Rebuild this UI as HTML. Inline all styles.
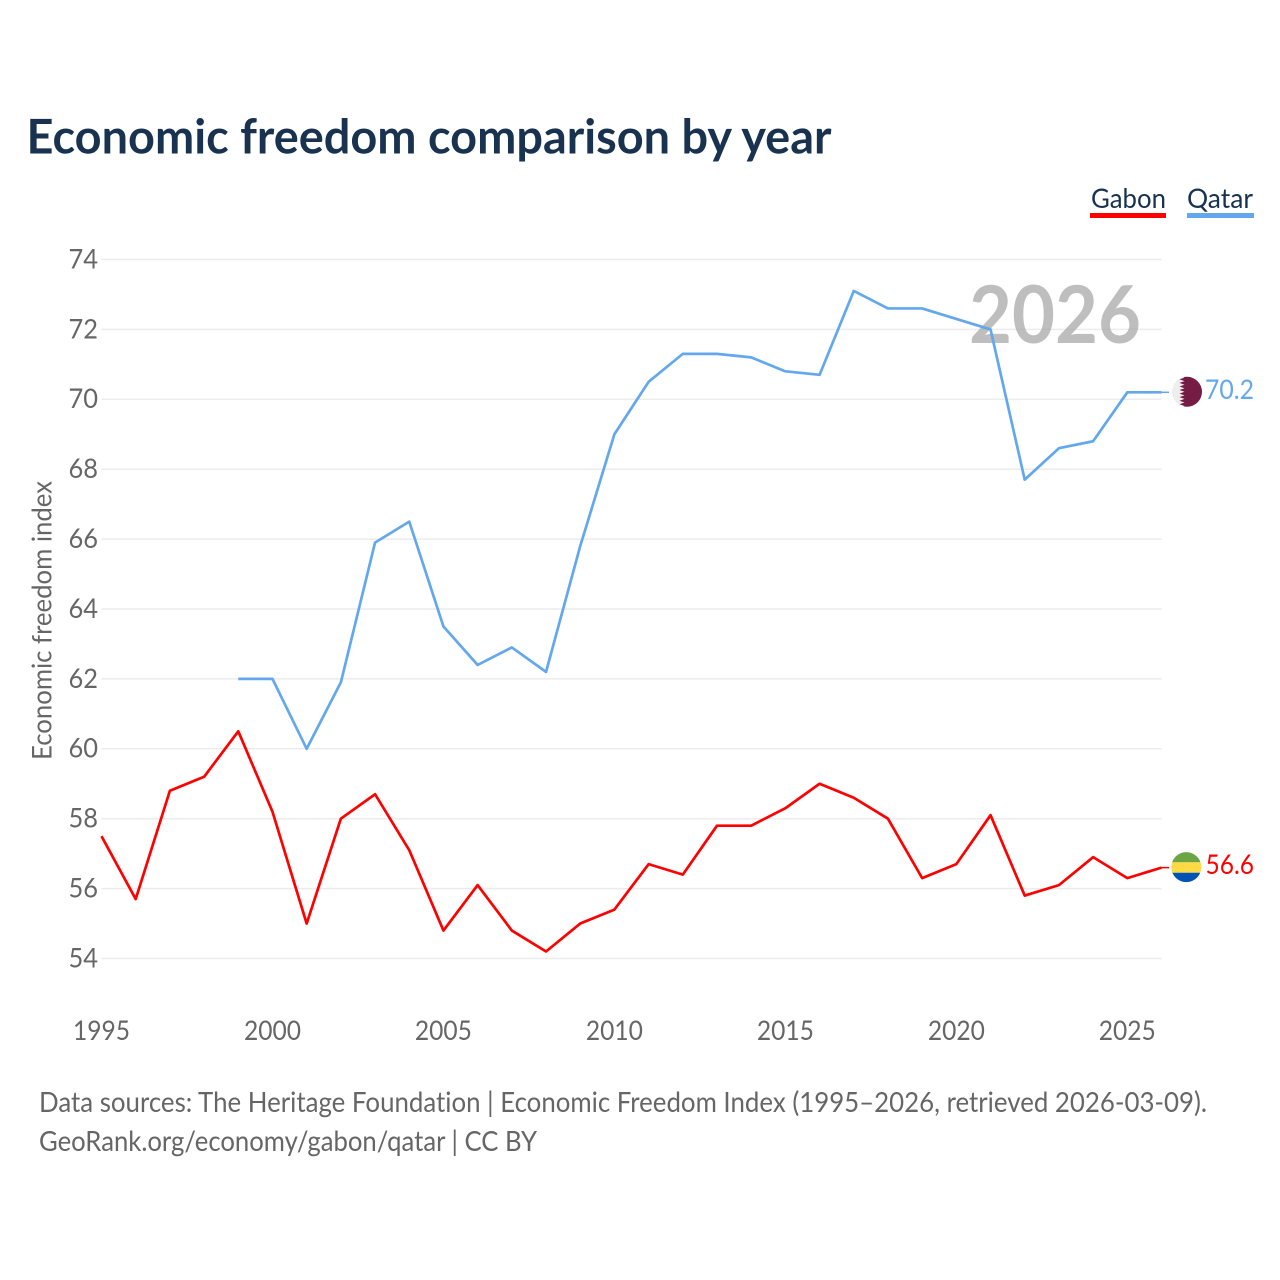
<!DOCTYPE html>
<html lang="en">
<head>
<meta charset="utf-8">
<title>Economic freedom comparison by year</title>
<style>
html,body{margin:0;padding:0;background:#fff;width:1280px;height:1280px;overflow:hidden}
svg{display:block}
text{font-family:"Lato","Carlito","Liberation Sans",sans-serif;font-variant-ligatures:none}
</style>
</head>
<body>
<svg id="chart" xmlns="http://www.w3.org/2000/svg" width="1280" height="1280" viewBox="0 0 1280 1280">
  <defs>
    <clipPath id="qa-clip"><circle cx="1187" cy="0" r="15"/></clipPath>
    <clipPath id="ga-clip"><circle cx="1186.3" cy="0" r="15"/></clipPath>
  </defs>
  <rect width="1280" height="1280" fill="#fff"/>
  <text x="26.5" y="153.6" font-size="47.5" font-weight="700" fill="#18324f" textLength="805" lengthAdjust="spacingAndGlyphs">Economic freedom comparison by year</text>

  <g>
    <text x="1091" y="208" font-size="27" fill="#18324f" textLength="75" lengthAdjust="spacingAndGlyphs">Gabon</text>
    <rect x="1090" y="213" width="76" height="5" fill="#ff0000"/>
  </g>
  <g>
    <text x="1187" y="208" font-size="27" fill="#18324f" textLength="66" lengthAdjust="spacingAndGlyphs">Qatar</text>
    <rect x="1187" y="213" width="67" height="5" fill="#63a7ec"/>
  </g>

  <g id="grid"></g>
  <text x="1141" y="343" text-anchor="end" font-size="80" font-weight="700" fill="#a8a8a8" fill-opacity="0.75" textLength="172" lengthAdjust="spacingAndGlyphs">2026</text>
  <g id="y-ticks"></g>
  <g id="x-ticks"></g>
  <text transform="translate(51.7 620.5) rotate(-90)" text-anchor="middle" font-size="27" fill="#666" textLength="279" lengthAdjust="spacingAndGlyphs">Economic freedom index</text>

  <g id="series"></g>

  <g id="flag-qatar"></g>
  <g id="flag-gabon"></g>

  <text x="39" y="1112" font-size="28" fill="#666" textLength="1168" lengthAdjust="spacingAndGlyphs">Data sources: The Heritage Foundation | Economic Freedom Index (1995–2026, retrieved 2026-03-09).</text>
  <text x="39" y="1151" font-size="28" fill="#666" textLength="498" lengthAdjust="spacingAndGlyphs">GeoRank.org/economy/gabon/qatar | CC BY</text>
</svg>
<script>
const years = [1995,1996,1997,1998,1999,2000,2001,2002,2003,2004,2005,2006,2007,2008,2009,2010,2011,2012,2013,2014,2015,2016,2017,2018,2019,2020,2021,2022,2023,2024,2025,2026];
const gabonValues = [57.5,55.7,58.8,59.2,60.5,58.2,55.0,58.0,58.7,57.1,54.8,56.1,54.8,54.2,55.0,55.4,56.7,56.4,57.8,57.8,58.3,59.0,58.6,58.0,56.3,56.7,58.1,55.8,56.1,56.9,56.3,56.6];
const qatarValues = [null,null,null,null,62.0,62.0,60.0,61.9,65.9,66.5,63.5,62.4,62.9,62.2,65.8,69.0,70.5,71.3,71.3,71.2,70.8,70.7,73.1,72.6,72.6,72.3,72.0,67.7,68.6,68.8,70.2,70.2];
const yTickValues = [54,56,58,60,62,64,66,68,70,72,74];
const xTickValues = [1995,2000,2005,2010,2015,2020,2025];

const NS = 'http://www.w3.org/2000/svg';
const xScale = function (yr) { return 101.5 + (yr - 1995) * (1060 / 31); };
const yScale = function (v) { return 259.5 + (74 - v) * (699 / 20); };

function make(tag, parent, attrs, txt) {
  const el = document.createElementNS(NS, tag);
  for (const k in attrs) el.setAttribute(k, attrs[k]);
  if (txt !== undefined) el.textContent = txt;
  parent.appendChild(el);
  return el;
}

const gridG = document.getElementById('grid');
const yTickG = document.getElementById('y-ticks');
yTickValues.forEach(function (v) {
  const line = make('line', gridG, {x1: 101.5, x2: 1161.5, y1: yScale(v), y2: yScale(v), stroke: '#ececec', 'stroke-width': 1.5});
  
  
  const label = make('text', yTickG, {x: 98, y: yScale(v) + 8.9, 'text-anchor': 'end', 'font-size': 27, fill: '#666', textLength: 29.5, lengthAdjust: 'spacingAndGlyphs'}, String(v));
  
  
});

const xTickG = document.getElementById('x-ticks');
xTickValues.forEach(function (yr) {
  const label = make('text', xTickG, {x: xScale(yr), y: 1040, 'text-anchor': 'middle', 'font-size': 27, fill: '#666', textLength: 57, lengthAdjust: 'spacingAndGlyphs'}, String(yr));
  
  
});

function pathFor(values) {
  let d = '';
  values.forEach(function (v, i) {
    if (v === null) return;
    d += (d ? 'L' : 'M') + xScale(years[i]).toFixed(2) + ' ' + yScale(v).toFixed(2);
  });
  return d;
}

const seriesG = document.getElementById('series');
const gabonLine = make('path', seriesG, {d: pathFor(gabonValues), fill: 'none', stroke: '#ff0000', 'stroke-width': 2.7, 'stroke-linejoin': 'round'});


const qatarLine = make('path', seriesG, {d: pathFor(qatarValues), fill: 'none', stroke: '#63a7ec', 'stroke-width': 2.7, 'stroke-linejoin': 'round'});



const lastGabon = gabonValues[gabonValues.length - 1];
const lastQatar = qatarValues[qatarValues.length - 1];
const gabonY = yScale(lastGabon);
const qatarY = yScale(lastQatar);

const gabonLink = make('line', seriesG, {x1: 1161.5, x2: 1169, y1: gabonY, y2: gabonY, stroke: '#ff0000', 'stroke-width': 1.5});


const qatarLink = make('line', seriesG, {x1: 1161.5, x2: 1169, y1: qatarY, y2: qatarY, stroke: '#63a7ec', 'stroke-width': 1.5});



/* Qatar flag */
const qa = document.getElementById('flag-qatar');
qa.setAttribute('transform', 'translate(0 ' + (qatarY - 0.5).toFixed(2) + ')');
const qaClip = make('g', qa, {'clip-path': 'url(#qa-clip)'});
make('rect', qaClip, {x: 1171, y: -16, width: 32, height: 32, fill: '#eeeeee'});
let serrate = 'M1203 -16 L1179.5 -16';
for (let i = 0; i < 9; i++) {
  const top = -16 + i * (32 / 9);
  serrate += 'L1184.5 ' + (top + 16 / 9).toFixed(2) + 'L1179.5 ' + (top + 32 / 9).toFixed(2);
}
serrate += 'L1203 16Z';
make('path', qaClip, {d: serrate, fill: '#751c45'});
const qaLabel = make('text', qa, {x: 1205, y: 7.4, 'font-size': 27, fill: '#63a7ec', textLength: 49, lengthAdjust: 'spacingAndGlyphs'}, lastQatar.toFixed(1));



/* Gabon flag */
const ga = document.getElementById('flag-gabon');
ga.setAttribute('transform', 'translate(0 ' + (gabonY - 0.5).toFixed(2) + ')');
const gaClip = make('g', ga, {'clip-path': 'url(#ga-clip)'});
make('rect', gaClip, {x: 1170, y: -16, width: 33, height: 11.2, fill: '#6da544'});
make('rect', gaClip, {x: 1170, y: -4.8, width: 33, height: 10.4, fill: '#ffda44'});
make('rect', gaClip, {x: 1170, y: 5.6, width: 33, height: 11, fill: '#0052b4'});
const gaLabel = make('text', ga, {x: 1205.5, y: 7.1, 'font-size': 27, fill: '#ff0000', textLength: 48.5, lengthAdjust: 'spacingAndGlyphs'}, lastGabon.toFixed(1));


</script>
</body>
</html>
